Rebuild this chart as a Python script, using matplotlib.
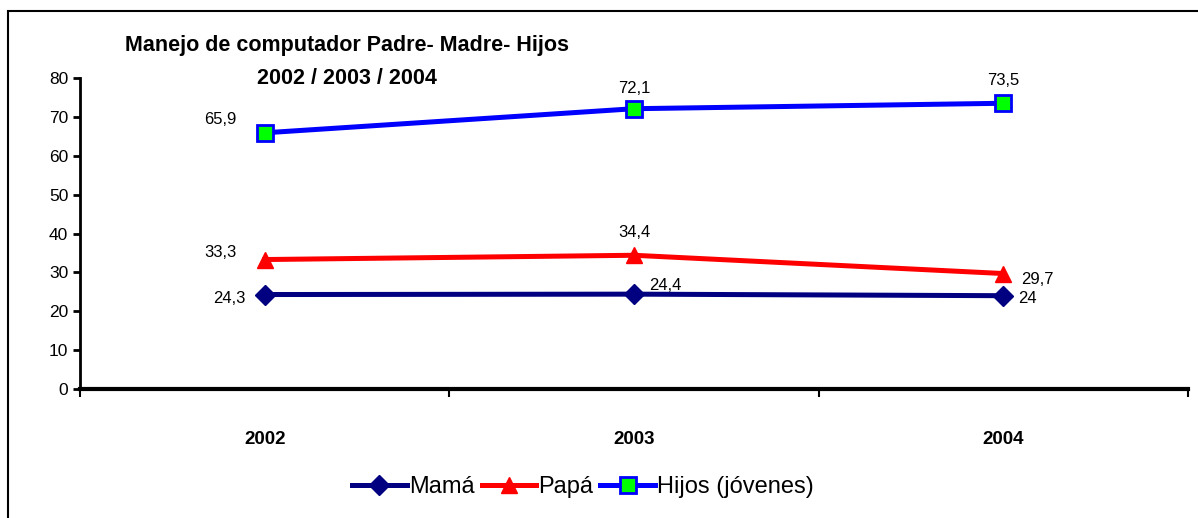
import matplotlib
matplotlib.use("Agg")
import matplotlib.pyplot as plt
from matplotlib.patches import Rectangle

plt.rcParams['font.family'] = ['Liberation Sans Narrow', 'Liberation Sans', 'DejaVu Sans']

years = ["2002", "2003", "2004"]
mama = [24.3, 24.4, 24.0]
papa = [33.3, 34.4, 29.7]
hijos = [65.9, 72.1, 73.5]
mama_labels = ["24,3", "24,4", "24"]
papa_labels = ["33,3", "34,4", "29,7"]
hijos_labels = ["65,9", "72,1", "73,5"]

fig = plt.figure(figsize=(11.98, 5.18), dpi=100)
ax = fig.add_axes([80 / 1198, 1 - 389 / 518, 1108 / 1198, 311 / 518])

# outer frame (runs off the right and bottom edges)
fig.patches.append(Rectangle((8 / 1198, -0.05), 1.2, 1 - 11 / 518 + 0.05,
                             transform=fig.transFigure, fill=False,
                             edgecolor='black', linewidth=1.5))

x = range(len(years))
ax.plot(x, mama, color='#000080', lw=3.6, marker='D', ms=10,
        mfc='#000080', mec='#000080', label='Mamá')
ax.plot(x, papa, color='#ff0000', lw=3.6, marker='^', ms=12,
        mfc='#ff0000', mec='#ff0000', label='Papá')
ax.plot(x, hijos, color='#0000ff', lw=3.6, marker='s', ms=11,
        mfc='#00ff00', mec='#0000ff', mew=2, label='Hijos (jóvenes)')

# data labels
lbl = dict(fontsize=12, textcoords='offset points')
ax.annotate(hijos_labels[0], (0, hijos[0]), xytext=(-20, 4), ha='right', va='bottom', **lbl)
ax.annotate(hijos_labels[1], (1, hijos[1]), xytext=(0, 9), ha='center', va='bottom', **lbl)
ax.annotate(hijos_labels[2], (2, hijos[2]), xytext=(0, 11), ha='center', va='bottom', **lbl)
ax.annotate(papa_labels[0], (0, papa[0]), xytext=(-20, 0), ha='right', va='bottom', **lbl)
ax.annotate(papa_labels[1], (1, papa[1]), xytext=(0, 11), ha='center', va='bottom', **lbl)
ax.annotate(papa_labels[2], (2, papa[2]), xytext=(13, -4), ha='left', va='center', **lbl)
ax.annotate(mama_labels[0], (0, mama[0]), xytext=(-14, -3), ha='right', va='center', **lbl)
ax.annotate(mama_labels[1], (1, mama[1]), xytext=(11, 1), ha='left', va='bottom', **lbl)
ax.annotate(mama_labels[2], (2, mama[2]), xytext=(11, -2), ha='left', va='center', **lbl)

ax.set_xlim(-0.5, 2.5)
ax.set_ylim(0, 80)
ax.set_yticks(range(0, 81, 10))
ax.set_xticks(x)
ax.set_xticklabels(years, fontsize=13.5, fontweight='bold')
ax.tick_params(axis='x', length=0, pad=30)
ax.set_xticks([-0.5, 0.5, 1.5, 2.5], minor=True)
ax.tick_params(axis='x', which='minor', length=6, width=1.5, direction='out', bottom=True, top=False)
ax.tick_params(axis='y', labelsize=12.5, length=5, width=2, direction='out')
for side in ['top', 'right']:
    ax.spines[side].set_visible(False)
ax.spines['left'].set_linewidth(2)
ax.spines['bottom'].set_linewidth(3)

fig.text(347 / 1198, 1 - 62 / 518, "Manejo de computador Padre- Madre- Hijos\n2002 / 2003 / 2004",
         ha='center', va='center', fontsize=15.5, fontweight='bold', linespacing=1.75)

fig.legend(loc='center', bbox_to_anchor=(583 / 1198, 1 - 487 / 518), ncol=3,
           frameon=False, fontsize=17, handlelength=2.3, handletextpad=0.1,
           columnspacing=0.3)

fig.savefig("out.png", dpi=100)
